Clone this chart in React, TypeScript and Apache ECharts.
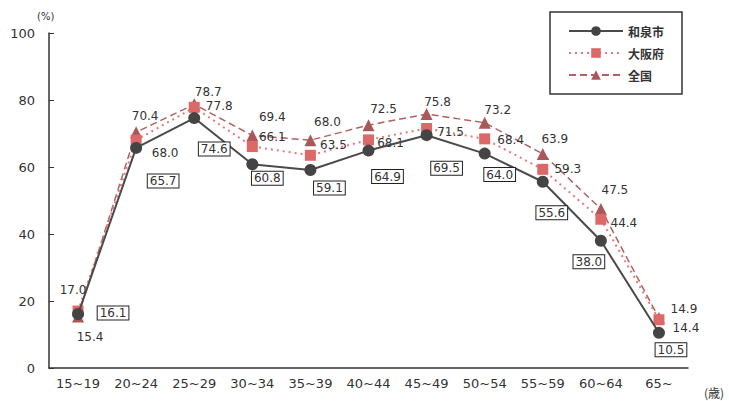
import React, { useEffect, useRef } from "react";
import * as echarts from "echarts";

const categories = ["15~19", "20~24", "25~29", "30~34", "35~39", "40~44", "45~49", "50~54", "55~59", "60~64", "65~"];
const izumiValues = [16.1, 65.7, 74.6, 60.8, 59.1, 64.9, 69.5, 64.0, 55.6, 38.0, 10.5];
const osakaValues = [17.0, 68.0, 77.8, 66.1, 63.5, 68.1, 71.5, 68.4, 59.3, 44.4, 14.4];
const zenkokuValues = [15.4, 70.4, 78.7, 69.4, 68.0, 72.5, 75.8, 73.2, 63.9, 47.5, 14.9];
const yTicks = [0, 20, 40, 60, 80, 100];

// label offsets (layout only)
const izumiOffsets = [[35, -1], [27, 33], [20, 31], [15, 14], [19, 18], [19, 26], [20, 33], [15, 21], [9, 31], [-12, 21], [12, 17]];
const osakaOffsets = [[-5, -21], [29, 13], [25, -1], [20, -10], [23, -10], [22, 3], [24, 4], [26, 1], [25, 0], [23, 4], [27, 8]];
const zenkokuOffsets = [[12, 21], [9, -16], [14, -12], [20, -19], [17, -18], [15, -16], [11, -12], [13, -13], [12, -15], [14, -19], [25, -9]];

const FONT = "DejaVu Sans";

export default function App() {
  const ref = useRef<HTMLDivElement>(null);
  useEffect(() => {
    if (!ref.current) return;
    const chart = echarts.init(ref.current, null, { renderer: "svg" });
    const mk = (vals: number[], offs: number[][], boxed: boolean) =>
      vals.map((v, i) => ({
        value: v,
        label: {
          show: true,
          position: "inside",
          offset: offs[i],
          formatter: (p: any) => Number(p.value).toFixed(1),
          color: "#333",
          fontFamily: FONT,
          fontSize: 12,
          ...(boxed
            ? { borderColor: "#222", borderWidth: 1, padding: [1, 2, 0, 2], backgroundColor: "#fff" }
            : {}),
        },
      }));
    chart.setOption({
      animation: false,
      backgroundColor: "#fff",
      grid: { left: 49, right: 41, top: 33, bottom: 33, containLabel: false },
      legend: {
        orient: "vertical",
        left: 550,
        top: 12,
        data: ["和泉市", "大阪府", "全国"],
        itemWidth: 54,
        itemHeight: 12,
        itemGap: 10,
        padding: [13, 18, 13, 18],
        borderColor: "#333",
        borderWidth: 1.5,
        textStyle: { fontFamily: "Noto Sans CJK JP", fontSize: 12, color: "#333", fontWeight: "bold" },
      },
      xAxis: {
        type: "category",
        data: categories,
        boundaryGap: true,
        axisLine: { lineStyle: { color: "#333", width: 1.5 } },
        axisTick: { inside: true, length: 6, lineStyle: { color: "#333" } },
        axisLabel: { color: "#333", fontFamily: FONT, fontSize: 13, margin: 9 },
      },
      yAxis: {
        type: "value",
        min: 0,
        max: 100,
        interval: 20,
        splitLine: { show: false },
        axisLine: { show: true, lineStyle: { color: "#333", width: 1.5 } },
        axisTick: { show: true, inside: true, length: 5, lineStyle: { color: "#333" } },
        axisLabel: {
          color: "#333",
          fontFamily: FONT,
          fontSize: 13,
          margin: 14,
          formatter: (v: number) => (yTicks.includes(v) ? String(v) : ""),
        },
      },
      graphic: [
        { type: "text", left: 37, top: 11, style: { text: "(%)", font: `10px '${FONT}'`, fill: "#333" } },
        { type: "text", left: 704, top: 386, style: { text: "(歳)", font: "12px 'Noto Sans CJK JP'", fill: "#333" } },
      ],
      series: [
        {
          name: "全国",
          type: "line",
          data: mk(zenkokuValues, zenkokuOffsets, false),
          symbol: "triangle",
          symbolSize: 12,
          lineStyle: { color: "#b06262", width: 1.5, type: [7, 4] },
          itemStyle: { color: "#a85858" },
          z: 2,
        },
        {
          name: "大阪府",
          type: "line",
          data: mk(osakaValues, osakaOffsets, false),
          symbol: "rect",
          symbolSize: 11,
          lineStyle: { color: "#e07a7a", width: 2, type: [2, 4] },
          itemStyle: { color: "#dd6868" },
          z: 3,
        },
        {
          name: "和泉市",
          type: "line",
          data: mk(izumiValues, izumiOffsets, true),
          symbol: "circle",
          symbolSize: 12,
          lineStyle: { color: "#4a4a4a", width: 2 },
          itemStyle: { color: "#444" },
          z: 4,
        },
      ],
    });
    return () => chart.dispose();
  }, []);
  return <div ref={ref} style={{ width: 729, height: 401, position: "absolute", left: 0, top: 0 }} />;
}
